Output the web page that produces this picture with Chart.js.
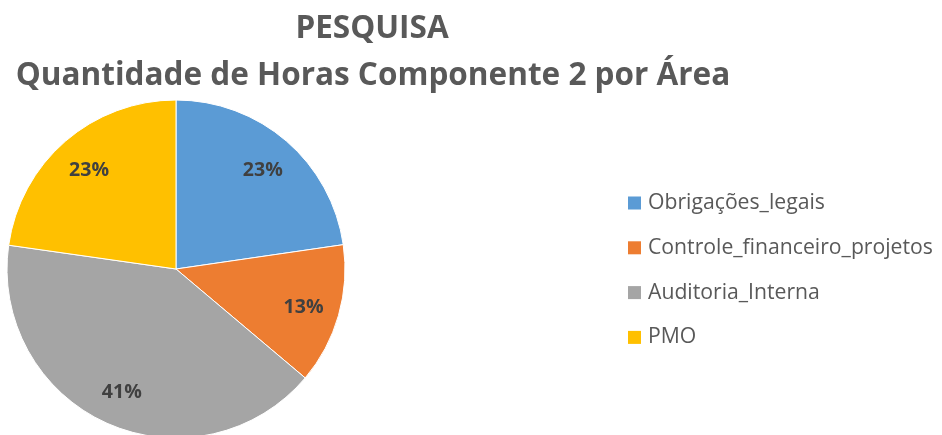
<!DOCTYPE html>
<html lang="pt-BR">
<head>
<meta charset="utf-8">
<title>PESQUISA</title>
<script src="https://cdn.jsdelivr.net/npm/chart.js@4.4.0/dist/chart.umd.min.js"></script>
<style>
  html, body { margin: 0; padding: 0; background: #fff; overflow: hidden; }
  #wrap { position: relative; width: 942px; height: 435px; }
</style>
</head>
<body>
<div id="wrap"><canvas id="pieChart" width="942" height="435"></canvas></div>
<script>
// dados do gráfico
const areas = ['Obrigações_legais', 'Controle_financeiro_projetos', 'Auditoria_Interna', 'PMO'];
const horas = [22.7, 13.45, 41.1, 22.75];
const cores = ['#5B9BD5', '#ED7D31', '#A5A5A5', '#FFC000'];
const titulo = ['PESQUISA', 'Quantidade de Horas Componente 2 por Área'];

const FONTE = '"Open Sans", sans-serif';

// acha o tamanho de fonte para o texto ocupar a largura desejada
function tamanhoPara(ctx, texto, largura, peso) {
    ctx.font = peso + ' 100px ' + FONTE;
    return 100 * largura / ctx.measureText(texto).width;
}

// percentuais dentro das fatias
const rotulosPlugin = {
    id: 'rotulos',
    afterDatasetsDraw(chart) {
        const ctx = chart.ctx;
        const meta = chart.getDatasetMeta(0);
        const total = horas.reduce((a, b) => a + b, 0);
        ctx.save();
        const tam = tamanhoPara(ctx, '23%', 40, 'bold');
        ctx.font = 'bold ' + tam + 'px ' + FONTE;
        ctx.fillStyle = '#404040';
        ctx.textAlign = 'center';
        ctx.textBaseline = 'middle';
        meta.data.forEach((arc, i) => {
            const meio = (arc.startAngle + arc.endAngle) / 2;
            const r = arc.outerRadius * 0.785;
            ctx.fillText(Math.round(horas[i] / total * 100) + '%',
                arc.x + Math.cos(meio) * r, arc.y + Math.sin(meio) * r + 2);
        });
        ctx.restore();
    }
};

// título e legenda no estilo do Excel
const tituloLegendaPlugin = {
    id: 'tituloLegenda',
    afterDraw(chart) {
        const ctx = chart.ctx;
        ctx.save();
        ctx.fillStyle = '#595959';
        ctx.textAlign = 'center';
        ctx.textBaseline = 'alphabetic';
        const tamTitulo = tamanhoPara(ctx, titulo[1], 715, 'bold');
        ctx.font = 'bold ' + tamTitulo + 'px ' + FONTE;
        ctx.fillText(titulo[0], 372, 38);
        ctx.fillText(titulo[1], 373, 85);

        ctx.textAlign = 'left';
        ctx.textBaseline = 'middle';
        const tamLegenda = tamanhoPara(ctx, areas[1], 285, 'normal');
        ctx.font = tamLegenda + 'px ' + FONTE;
        areas.forEach((nome, i) => {
            const y = 203 + i * 44.8;
            ctx.fillStyle = cores[i];
            ctx.fillRect(628, y - 6.5, 13, 13);
            ctx.fillStyle = '#595959';
            ctx.fillText(nome, 648, y);
        });
        ctx.restore();
    }
};

const ctx = document.getElementById('pieChart').getContext('2d');
const chart = new Chart(ctx, {
    type: 'pie',
    data: {
        labels: areas,
        datasets: [{
            data: horas,
            backgroundColor: cores,
            borderColor: '#fff',
            borderWidth: 1
        }]
    },
    options: {
        responsive: false,
        animation: false,
        radius: 169,
        layout: {
            padding: { left: 7, right: 597, top: 131, bottom: 28 }
        },
        plugins: {
            legend: { display: false },
            title: { display: false },
            tooltip: { enabled: false }
        }
    },
    plugins: [rotulosPlugin, tituloLegendaPlugin]
});
</script>
</body>
</html>
